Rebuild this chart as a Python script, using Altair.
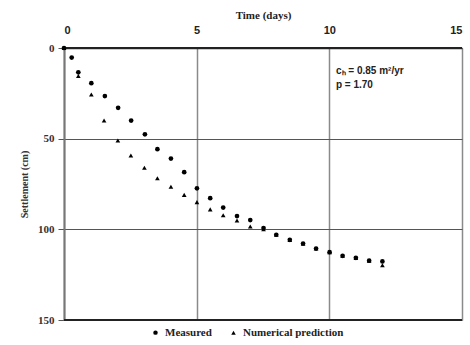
import altair as alt
import pandas as pd

meas_t = [0, 0.29, 0.54, 1.03, 1.54, 2.04, 2.53, 3.05, 3.52, 4.03, 4.53, 5.01, 5.51, 6.0, 6.52, 7.02, 7.52, 8.0, 8.51, 9.01, 9.5, 10.01, 10.5, 11.0, 11.5, 12.0]
meas_s = [0, 5.3, 13.4, 19.4, 26.5, 33, 40, 47.6, 55.8, 61, 68.5, 77.4, 82.8, 88, 92.7, 94.9, 99.3, 103, 105.8, 107.8, 110.6, 112.6, 114.6, 115.7, 117.3, 117.7]
pred_t = [0, 0.54, 1.03, 1.51, 2.03, 2.52, 3.03, 3.52, 4.03, 4.53, 5.01, 5.51, 6.0, 6.52, 7.02, 7.52, 8.0, 8.51, 9.01, 9.5, 10.01, 10.5, 11.0, 11.5, 12.0]
pred_s = [0, 15.4, 25.6, 40, 51, 59.3, 66, 71.8, 76.5, 81, 85, 89, 92.2, 95.1, 98.4, 100, 103, 105.8, 108, 110.6, 112.6, 114.6, 115.8, 117.3, 119.8]

series_names = ["Measured", "Numerical prediction"]

df = pd.concat([
    pd.DataFrame({"t": meas_t, "s": meas_s, "series": series_names[0]}),
    pd.DataFrame({"t": pred_t, "s": pred_s, "series": series_names[1]}),
])

x_ticks = [0, 5, 10, 15]
y_ticks = [0, 50, 100, 150]

xscale = alt.Scale(domain=[0, 15], nice=False, zero=True)
yscale = alt.Scale(domain=[0, 150], reverse=True, nice=False)

points = alt.Chart(df).mark_point(filled=True, opacity=1, color="black").encode(
    x=alt.X("t:Q", scale=xscale,
            axis=alt.Axis(orient="top", values=x_ticks, title="Time (days)",
                          grid=True, gridColor="#8a8a8a", gridWidth=1.5,
                          ticks=False, labelPadding=13,
                          labelFont="Liberation Sans", labelFontWeight="bold",
                          labelFontSize=11, labelColor="#222",
                          titleFont="Liberation Serif", titleFontWeight="bold",
                          titleFontSize=11, titleColor="#222", titlePadding=4,
                          domainColor="#333", domainWidth=1.5)),
    y=alt.Y("s:Q", scale=yscale,
            axis=alt.Axis(values=y_ticks, title="Settlement (cm)",
                          grid=True, gridColor="#555", gridWidth=1.2,
                          tickSize=6, tickColor="#555", tickWidth=1,
                          labelPadding=4,
                          labelFont="Liberation Serif", labelFontWeight="bold",
                          labelFontSize=11, labelColor="#333",
                          titleFont="Liberation Serif", titleFontWeight="bold",
                          titleFontSize=10, titleColor="#333", titlePadding=8,
                          domainColor="#777", domainWidth=2)),
    shape=alt.Shape("series:N",
                    scale=alt.Scale(domain=series_names, range=["circle", "triangle-up"]),
                    legend=alt.Legend(title=None, orient="none", direction="horizontal",
                                      legendX=86, legendY=279,
                                      labelFont="Liberation Serif", labelFontWeight="bold",
                                      labelFontSize=11, labelColor="#222",
                                      symbolSize=20, symbolFillColor="black",
                                      symbolStrokeColor="black", columnPadding=16,
                                      labelOffset=4)),
    size=alt.value(22),
)

border_df = pd.DataFrame({"y": [0, 150]})
borders = alt.Chart(border_df).mark_rule(color="#222", strokeWidth=1.8).encode(
    y=alt.Y("y:Q", scale=yscale),
    x=alt.value(0), x2=alt.value(398),
)

ann_lines = ["cₕ  =  0.85 m²/yr", "p  =  1.70"]
ann_df = pd.DataFrame({"t": [10.25, 10.25], "s": [12.5, 20.5], "txt": ann_lines})
ann = alt.Chart(ann_df).mark_text(align="left", baseline="middle",
                                  font="Liberation Sans", fontWeight="bold",
                                  fontSize=10, color="#222").encode(
    x=alt.X("t:Q", scale=xscale), y=alt.Y("s:Q", scale=yscale), text="txt:N")

chart = alt.layer(borders, points, ann).properties(
    width=398, height=272,
    autosize=alt.AutoSizeParams(type="none"),
    padding={"left": 64, "top": 48, "right": 8, "bottom": 25},
).configure_view(stroke=None)

chart.save("out.html", embed_options={"renderer": "svg", "actions": False})
